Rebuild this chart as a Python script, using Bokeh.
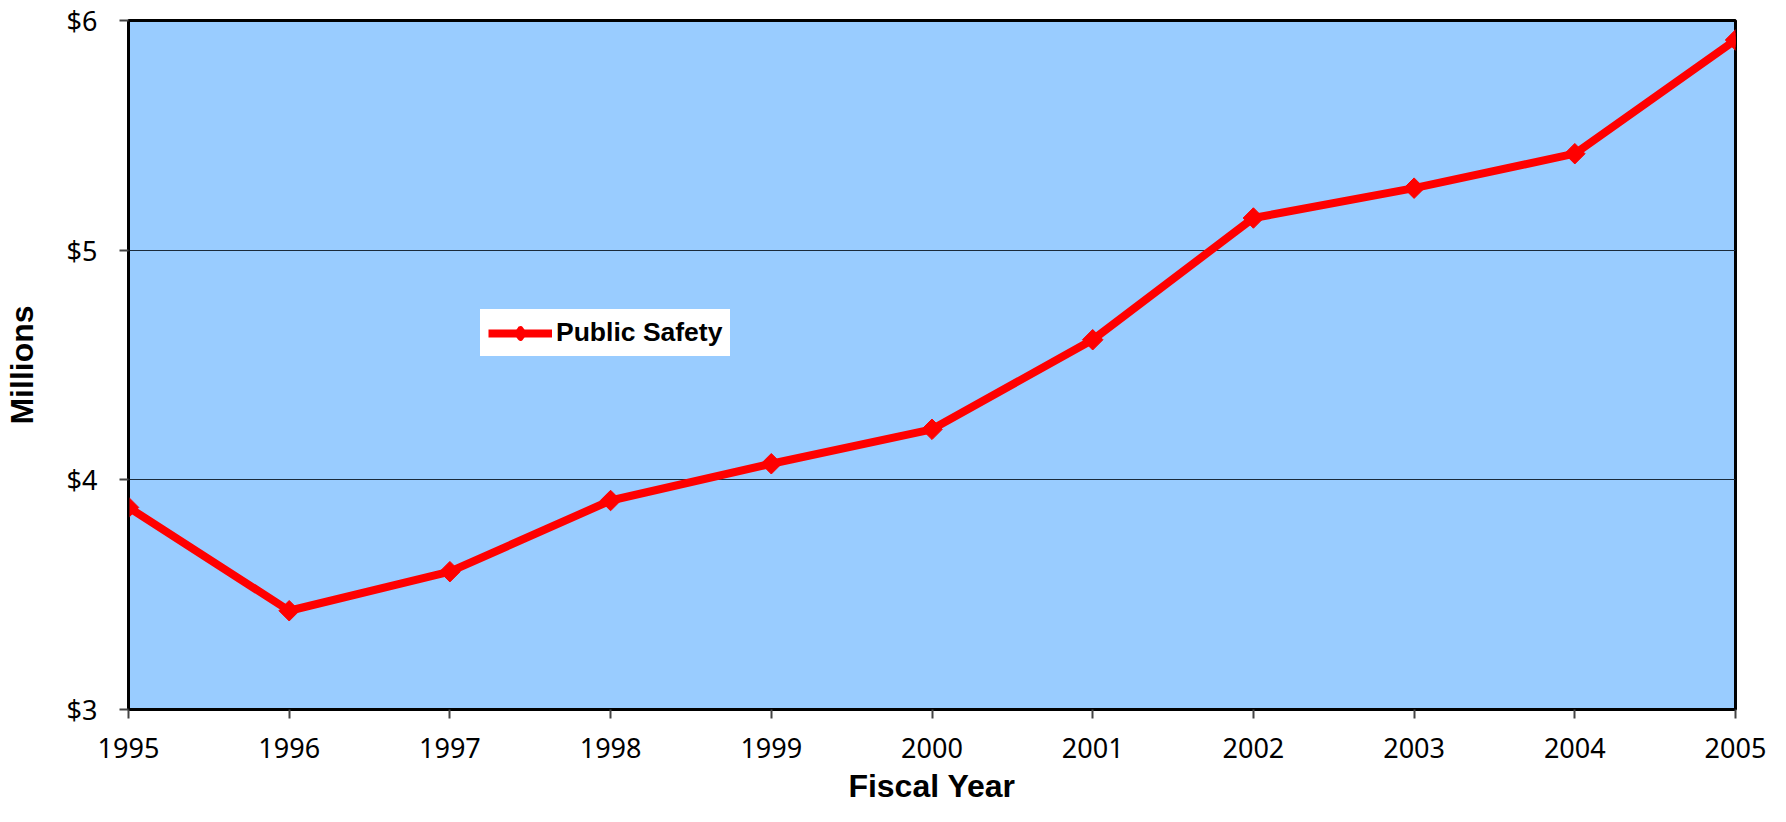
import numpy as np
from bokeh.plotting import figure
from bokeh.models import FixedTicker, Range1d, Legend, LegendItem, CustomJSTickFormatter
from bokeh.embed import file_html
from bokeh.resources import INLINE

years = [1995, 1996, 1997, 1998, 1999, 2000, 2001, 2002, 2003, 2004, 2005]
public_safety = [3.88, 3.43, 3.60, 3.91, 4.07, 4.22, 4.61, 5.14, 5.27, 5.42, 5.915]
y_ticks = [3, 4, 5, 6]
series_name = "Public Safety"
x_title = "Fiscal Year"
y_title = "Millions"

p = figure(width=1770, height=806, output_backend="svg", toolbar_location=None,
           x_range=Range1d(1995, 2005), y_range=Range1d(3, 6),
           min_border_left=128, min_border_top=20, min_border_right=35, min_border_bottom=97)

p.background_fill_color = "#99CCFF"
p.border_fill_color = "white"
p.outline_line_color = "black"
p.outline_line_width = 3

line = p.line(years, public_safety, line_color="#FF0000", line_width=8)
# diamond glyph (used for the legend), covered by the rotated squares on the plot
dia = p.scatter(years, public_safety, marker="diamond", size=8,
                fill_color="#FF0000", line_color="#FF0000", line_width=6, line_join="round")
pts = p.scatter(years, public_safety, marker="square", angle=np.pi / 4, size=14.5,
                fill_color="#FF0000", line_color="#FF0000")

# axes
p.xaxis.ticker = FixedTicker(ticks=years)
p.yaxis.ticker = FixedTicker(ticks=y_ticks)
p.yaxis.formatter = CustomJSTickFormatter(code="return '$' + tick;")
p.xaxis.minor_tick_line_color = None
p.yaxis.minor_tick_line_color = None
for ax in (p.xaxis, p.yaxis):
    ax.axis_line_color = "black"
    ax.axis_line_width = 2
    ax.major_tick_line_color = "#444444"
    ax.major_tick_line_width = 2
    ax.major_tick_out = 9
    ax.major_tick_in = 0
    ax.major_label_text_font = "Noto Sans"
    ax.major_label_text_font_size = "27px"
    ax.major_label_text_color = "black"
    ax.axis_label_text_font = "Liberation Sans"
    ax.axis_label_text_font_style = "bold"
    ax.axis_label_text_font_size = "32px"
    ax.axis_label_text_color = "black"

p.xaxis.axis_label = x_title
p.yaxis.axis_label = y_title
p.xaxis.major_label_standoff = 19
p.xaxis.axis_label_standoff = 7
p.yaxis.major_label_standoff = 22
p.yaxis.axis_label_standoff = 24

p.xgrid.grid_line_color = None
p.ygrid.ticker = FixedTicker(ticks=[4, 5])
p.ygrid.grid_line_color = "#1a2a3a"
p.ygrid.grid_line_width = 1

legend = Legend(items=[LegendItem(label=series_name, renderers=[line, dia])],
                location=(352, 353))
legend.background_fill_color = "white"
legend.background_fill_alpha = 1
legend.border_line_color = "white"
legend.border_line_width = 6
legend.label_text_font = "Liberation Sans"
legend.label_text_font_style = "bold"
legend.label_text_font_size = "26.5px"
legend.label_text_color = "black"
legend.glyph_width = 64
legend.glyph_height = 22
legend.label_height = 22
legend.label_standoff = 4
legend.padding = 2
legend.margin = 0
p.add_layout(legend)

open("out.html", "w").write(file_html(p, INLINE))
